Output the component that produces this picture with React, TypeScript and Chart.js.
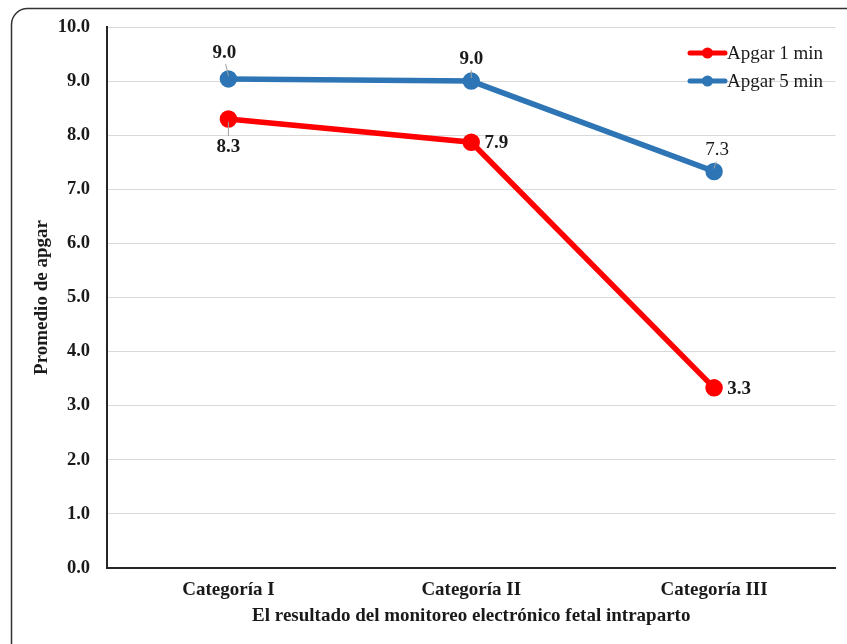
import React, { useEffect, useRef } from "react";
import { Chart, registerables } from "chart.js";

Chart.register(...registerables);

const categories = ["Categoría I", "Categoría II", "Categoría III"];
const apgar1 = [8.3, 7.87, 3.33];
const apgar5 = [9.04, 9.0, 7.33];
const apgar1Labels = ["8.3", "7.9", "3.3"];
const apgar5Labels = ["9.0", "9.0", "7.3"];
const seriesNames = ["Apgar 1 min", "Apgar 5 min"];
const yTitle = "Promedio de apgar";
const xTitle = "El resultado del monitoreo electrónico fetal intraparto";

// label placement: offsets of label centre from the point, leader flag, weight
const apgar1Place = [
  { dx: 0, dy: 28, leader: true, weight: "bold" },
  { dx: 25, dy: 1, leader: false, weight: "bold" },
  { dx: 25, dy: 1, leader: false, weight: "bold" },
];
const apgar5Place = [
  { dx: -4, dy: -26, leader: true, weight: "bold" },
  { dx: 0, dy: -22, leader: true, weight: "bold" },
  { dx: 3, dy: -21, leader: true, weight: "normal" },
];

const FONT = "'Liberation Serif', 'Times New Roman', serif";
const RED = "#FF0000";
const BLUE = "#2E75B6";
const FS = 19;

const zeroPadding = () => ({ left: 0, right: 0, top: 0, bottom: 0 });

export default function App() {
  const ref = useRef<HTMLCanvasElement | null>(null);
  useEffect(() => {
    if (!ref.current) return;
    const places = [apgar1Place, apgar5Place];
    const texts = [apgar1Labels, apgar5Labels];

    const framePlugin = {
      id: "frame",
      beforeDraw(chart: any) {
        const ctx = chart.ctx;
        ctx.save();
        ctx.fillStyle = "#ffffff";
        ctx.fillRect(0, 0, chart.width, chart.height);
        ctx.strokeStyle = "#333333";
        ctx.lineWidth = 1.5;
        ctx.beginPath();
        (ctx as any).roundRect(11.5, 8.5, 900, 700, 16);
        ctx.stroke();
        ctx.restore();
      },
    };

    const labelPlugin = {
      id: "pointLabels",
      afterDatasetsDraw(chart: any) {
        const ctx = chart.ctx;
        ctx.save();
        chart.data.datasets.forEach((ds: any, di: number) => {
          const meta = chart.getDatasetMeta(di);
          meta.data.forEach((pt: any, i: number) => {
            const p = places[di][i];
            const lx = pt.x + p.dx;
            const ly = pt.y + p.dy;
            if (p.leader) {
              ctx.strokeStyle = "#a0a0a0";
              ctx.lineWidth = 1;
              ctx.beginPath();
              const dirY = p.dy > 0 ? 1 : -1;
              ctx.moveTo(pt.x, pt.y + dirY * 3);
              ctx.lineTo(lx + (pt.x - lx) * 0.3, ly - dirY * 11);
              ctx.stroke();
            }
            ctx.fillStyle = "#1a1a1a";
            ctx.font = `${p.weight} ${FS}px ${FONT}`;
            ctx.textAlign = "center";
            ctx.textBaseline = "middle";
            ctx.fillText(texts[di][i], lx, ly);
          });
        });
        ctx.restore();
      },
    };

    const legendPlugin = {
      id: "customLegend",
      afterDraw(chart: any) {
        const ctx = chart.ctx;
        ctx.save();
        chart.data.datasets.forEach((ds: any, di: number) => {
          const y = 53 + di * 28;
          const x0 = 690;
          const x1 = 725;
          ctx.strokeStyle = ds.borderColor;
          ctx.lineWidth = 5;
          ctx.lineCap = "round";
          ctx.beginPath();
          ctx.moveTo(x0, y);
          ctx.lineTo(x1, y);
          ctx.stroke();
          ctx.fillStyle = ds.borderColor;
          ctx.beginPath();
          ctx.arc((x0 + x1) / 2, y, 5.5, 0, Math.PI * 2);
          ctx.fill();
          ctx.fillStyle = "#1a1a1a";
          ctx.font = `normal ${FS}px ${FONT}`;
          ctx.textAlign = "left";
          ctx.textBaseline = "middle";
          ctx.fillText(ds.label, x1 + 2, y + 1);
        });
        ctx.restore();
      },
    };

    const chart = new Chart(ref.current, {
      type: "line",
      data: {
        labels: categories,
        datasets: [
          {
            label: seriesNames[0],
            data: apgar1,
            borderColor: RED,
            backgroundColor: RED,
            borderWidth: 5.5,
            pointRadius: 6,
            pointBackgroundColor: RED,
            pointBorderColor: RED,
            tension: 0,
          },
          {
            label: seriesNames[1],
            data: apgar5,
            borderColor: BLUE,
            backgroundColor: BLUE,
            borderWidth: 5.5,
            pointRadius: 6,
            pointBackgroundColor: BLUE,
            pointBorderColor: BLUE,
            tension: 0,
          },
        ],
      },
      options: {
        responsive: false,
        animation: false,
        layout: { padding: { top: 27, right: 7, left: 0, bottom: 0 } },
        plugins: {
          legend: { display: false },
          tooltip: { enabled: false },
        },
        scales: {
          x: {
            offset: true,
            grid: { display: false, drawTicks: false },
            border: { display: true, color: "#262626", width: 2 },
            ticks: {
              color: "#1a1a1a",
              font: { family: FONT, size: FS, weight: "bold" },
              padding: 11,
            },
            title: {
              display: true,
              text: xTitle,
              color: "#1a1a1a",
              font: { family: FONT, size: FS, weight: "bold" },
              padding: { top: 0, bottom: 17 },
            },
            afterFit(scale: any) {
              scale.height = 644 - 568;
              scale.paddingLeft = 0;
              scale.paddingRight = 0;
              scale.getPadding = zeroPadding;
            },
          },
          y: {
            min: 0,
            max: 10,
            ticks: {
              stepSize: 1,
              color: "#1a1a1a",
              font: { family: FONT, size: 18.5, weight: "bold" },
              padding: 17,
              callback: (v: any) => Number(v).toFixed(1),
            },
            grid: { color: "#d9d9d9", lineWidth: 1, drawTicks: false },
            border: { display: true, color: "#262626", width: 2 },
            title: {
              display: true,
              text: yTitle,
              color: "#1a1a1a",
              font: { family: FONT, size: FS, weight: "bold" },
              padding: { top: 31, bottom: 0 },
            },
            afterFit(scale: any) {
              scale.width = 107;
              scale.getPadding = zeroPadding;
            },
          },
        },
      },
      plugins: [framePlugin, labelPlugin, legendPlugin],
    });
    return () => chart.destroy();
  }, []);

  return (
    <div style={{ position: "fixed", left: 0, top: 0, width: 847, height: 644, overflow: "hidden", background: "#fff" }}>
      <canvas ref={ref} width={847} height={644} style={{ display: "block" }} />
    </div>
  );
}
